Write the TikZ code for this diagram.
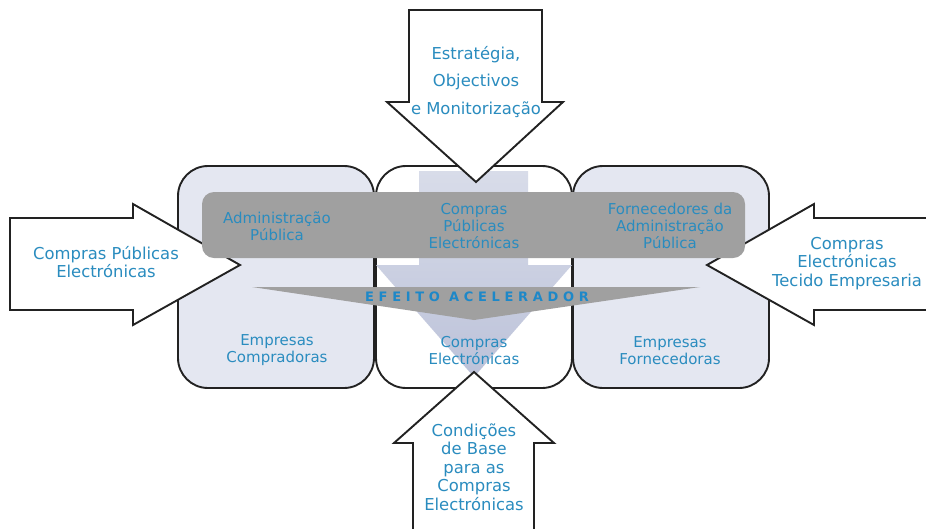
\documentclass[tikz,border=0pt]{standalone}
\usepackage{fontspec}
\setmainfont{DejaVu Sans}
\newfontfamily\spacedfont[LetterSpace=36]{DejaVu Sans}
\definecolor{txtblue}{HTML}{2A8CBF}
\definecolor{effblue}{HTML}{1E88C8}
\definecolor{boxfill}{HTML}{E4E7F1}
\definecolor{bandgray}{HTML}{A0A0A0}
\definecolor{arrtop}{HTML}{D8DCE9}
\definecolor{arrbot}{HTML}{BCC2D9}
\definecolor{edgecol}{HTML}{222222}
\tikzset{
  panel/.style={draw=edgecol, line width=1.9pt, rounded corners=30pt},
  bigarrow/.style={draw=edgecol, fill=white, line width=1.9pt, line join=miter},
  outlbl/.style={text=txtblue, inner sep=0pt, align=center, font=\fontsize{16.4}{18.5}\selectfont},
  inlbl/.style={text=txtblue, inner sep=0pt, align=center, font=\fontsize{15}{17}\selectfont},
}
\begin{document}
\begin{tikzpicture}[x=1pt,y=-1pt]
\useasboundingbox (0,0) rectangle (926,528);
% panels
\draw[panel, fill=boxfill] (178,166) rectangle (374,388);
\draw[panel, fill=white] (376,166) rectangle (572,388);
\draw[panel, fill=boxfill] (573,166) rectangle (769,388);
% side arrows
\draw[bigarrow] (10,218) -- (133,218) -- (133,204) -- (240,265) -- (133,325) -- (133,310) -- (10,310) -- cycle;
\draw[bigarrow] (935,218) -- (814,218) -- (814,204) -- (707,265) -- (814,325) -- (814,310) -- (935,310);
% central shaded arrow
\shade[top color=arrtop, bottom color=arrbot] (419,171) -- (528,171) -- (528,265) -- (572,265) -- (474,377) -- (376,265) -- (419,265) -- cycle;
% banner
\fill[bandgray, rounded corners=12pt] (202,192) rectangle (745,258);
% wedge
\fill[bandgray] (252,287) -- (700,287) -- (474,320) -- cycle;
\node[text=effblue, inner sep=0pt, font=\spacedfont\bfseries\fontsize{13}{15}\selectfont] (eff) at (477,297) {EFEITO ACELERADOR};
% top and bottom arrows
\draw[bigarrow] (409,10) -- (542,10) -- (542,102) -- (563,102) -- (476,182) -- (387,102) -- (409,102) -- cycle;
\draw[bigarrow] (413,535) -- (413,443) -- (394,443) -- (474,372) -- (554,443) -- (534,443) -- (534,535);
% labels
\node[outlbl] (lt) at (106,262) {Compras Públicas\\Electrónicas};
\node[outlbl] (rt) at (847,263.5) {Compras\\Electrónicas\\Tecido Empresaria};
\node[outlbl, font=\fontsize{16.4}{27.5}\selectfont] (tp) at (476,82) {Estratégia,\\Objectivos\\e Monitorização};
\node[outlbl] (bt) at (474,467) {Condições\\de Base\\para as\\Compras\\Electrónicas};
\node[inlbl] (ap) at (277,226.5) {Administração\\Pública};
\node[inlbl] (cpe) at (474,226) {Compras\\Públicas\\Electrónicas};
\node[inlbl] (fap) at (670,226) {Fornecedores da\\Administração\\Pública};
\node[inlbl] (ec) at (277,350.5) {Empresas\\Compradoras};
\node[inlbl] (ce) at (474,350.5) {Compras\\Electrónicas};
\node[inlbl] (ef) at (670,350.5) {Empresas\\Fornecedoras};
\end{tikzpicture}
\end{document}
